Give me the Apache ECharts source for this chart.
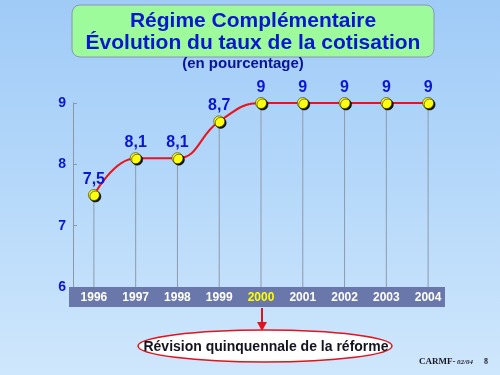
<!DOCTYPE html>
<html><head><meta charset="utf-8">
<script src="https://cdn.jsdelivr.net/npm/echarts@6/dist/echarts.min.js"></script>
<style>html,body{margin:0;padding:0;}#c{width:500px;height:375px;}</style>
</head><body><div id="c"></div>
<script>
var years = ['1996','1997','1998','1999','2000','2001','2002','2003','2004'];
var rates = [7.5, 8.1, 8.1, 8.7, 9, 9, 9, 9, 9];
var yTicks = {min: 6, max: 9, interval: 1};
var highlightYear = '2000';
var titleLines = ['Régime Complémentaire', 'Évolution du taux de la cotisation'];
var subtitle = '(en pourcentage)';
var noteText = 'Révision quinquennale de la réforme';

var BLUE = '#0b16d2';
var chart = echarts.init(document.getElementById('c'), null, {renderer: 'canvas'});
chart.setOption({
  animation: false,
  backgroundColor: {type: 'linear', x: 0, y: 0, x2: 0, y2: 1, colorStops: [
    {offset: 0, color: '#a0cbf7'}, {offset: 0.45, color: '#b3d7fa'}, {offset: 1, color: '#cfe7fc'}]},
  grid: {left: 73, right: 51, top: 103, bottom: 88},
  xAxis: {
    type: 'category', data: years, boundaryGap: true, z: 10,
    axisLine: {show: false}, axisTick: {show: false},
    axisLabel: {
      margin: 5, fontSize: 12, fontWeight: 'bold', fontFamily: 'Liberation Sans, Arial',
      color: function (v) { return v === highlightYear ? '#ffff00' : '#ffffff'; },
      textShadowColor: '#1a1a40', textShadowOffsetX: 1, textShadowOffsetY: 1, textShadowBlur: 0
    }
  },
  yAxis: {
    type: 'value', min: yTicks.min, max: yTicks.max, interval: yTicks.interval,
    axisLine: {show: true, lineStyle: {color: '#8c98a8', width: 1}},
    axisTick: {show: true, inside: true, length: 4, lineStyle: {color: '#8c98a8'}},
    splitLine: {show: false},
    axisLabel: {margin: 7, fontSize: 14, fontWeight: 'bold', color: BLUE, fontFamily: 'Liberation Sans, Arial'}
  },
  series: [
    {
      type: 'bar', data: rates, barWidth: 1, clip: true, silent: true,
      itemStyle: {color: '#8e9aac'}, z: 1
    },
    {
      type: 'line', data: rates, smooth: 0.45, z: 5,
      lineStyle: {color: '#e8141c', width: 2},
      symbol: 'circle', symbolSize: 11,
      itemStyle: {color: '#ffff10', borderColor: '#30301a', borderWidth: 0.6,
        shadowColor: 'rgba(0,0,0,0.9)', shadowOffsetX: 1.5, shadowOffsetY: 1.5, shadowBlur: 0},
      label: {
        show: true, position: 'top', distance: 2,
        fontSize: 16, fontWeight: 'bold', color: BLUE, fontFamily: 'Liberation Sans, Arial',
        formatter: function (p) { return String(p.value).replace('.', ','); }
      }
    }
  ],
  graphic: {elements: [
    {type: 'rect', z: 1, shape: {x: 69, y: 287, width: 376, height: 20}, style: {fill: '#6a77aa'}},
    {type: 'rect', z: 1, shape: {x: 72, y: 5, width: 362, height: 52, r: 8},
      style: {fill: '#9dfb9b', stroke: '#8796b4', lineWidth: 1}},
    {type: 'text', z: 2, style: {x: 253, y: 21, text: titleLines[0], textAlign: 'center', textVerticalAlign: 'middle',
      font: 'bold 21px "Liberation Sans", Arial', fill: BLUE}},
    {type: 'text', z: 2, style: {x: 253, y: 43, text: titleLines[1], textAlign: 'center', textVerticalAlign: 'middle',
      font: 'bold 21px "Liberation Sans", Arial', fill: BLUE}},
    {type: 'text', z: 2, style: {x: 243, y: 64, text: subtitle, textAlign: 'center', textVerticalAlign: 'middle',
      font: 'bold 15px "Liberation Sans", Arial', fill: '#0a1498'}},
    {type: 'line', z: 2, shape: {x1: 262, y1: 308, x2: 262, y2: 324}, style: {stroke: '#e0141c', lineWidth: 2}},
    {type: 'polygon', z: 2, shape: {points: [[257, 322], [267, 322], [262, 331]]}, style: {fill: '#e0141c'}},
    {type: 'ellipse', z: 2, shape: {cx: 265, cy: 346, rx: 127, ry: 16},
      style: {fill: '#ffffff', stroke: '#e0141c', lineWidth: 1.5}},
    {type: 'text', z: 3, style: {x: 266, y: 347, text: noteText, textAlign: 'center', textVerticalAlign: 'middle',
      font: 'bold 14px "Liberation Sans", Arial', fill: '#141420'}},
    {type: 'text', z: 2, style: {x: 419, y: 362, text: 'CARMF-', textVerticalAlign: 'middle',
      font: 'bold 9px "Liberation Serif", serif', fill: '#1a1a28'}},
    {type: 'text', z: 2, style: {x: 457, y: 362, text: '02/04', textVerticalAlign: 'middle',
      font: 'italic bold 7px "Liberation Serif", serif', fill: '#1a1a28'}},
    {type: 'text', z: 2, style: {x: 484, y: 362, text: '8', textVerticalAlign: 'middle',
      font: 'bold 8px "Liberation Serif", serif', fill: '#1a1a28'}}
  ]}
});
</script></body></html>
